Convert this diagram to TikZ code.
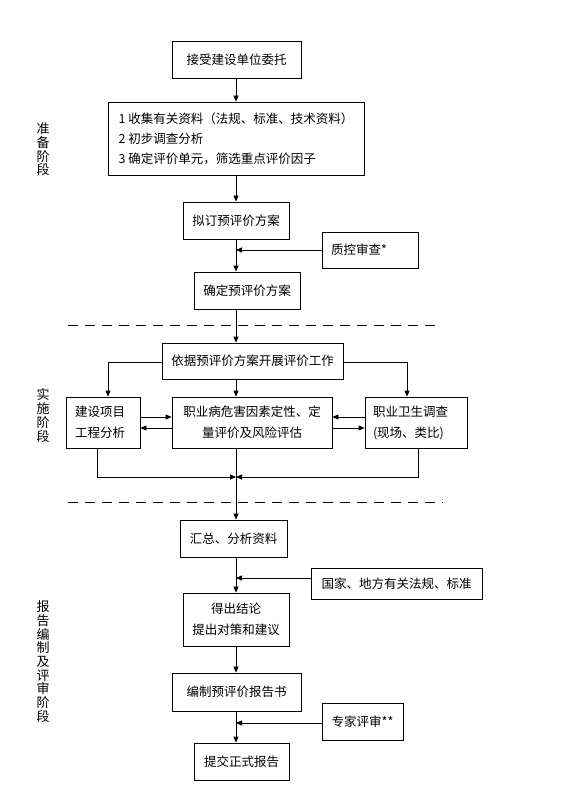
\documentclass[tikz,border=0pt]{standalone}
\usepackage{fontspec}
\setmainfont{Noto Sans CJK SC}
\usetikzlibrary{arrows.meta}
\begin{document}
\begin{tikzpicture}[x=1pt,y=-1pt,
  box/.style={draw, line width=0.8pt, inner sep=0pt, font=\fontsize{12.5}{21}\selectfont, align=center},
  arr/.style={line width=0.8pt, -{Triangle[length=6pt,width=5pt]}},
  sep/.style={line width=0.8pt, dash pattern=on 10pt off 7pt},
  stage/.style={font=\fontsize{13}{13.7}\selectfont, align=center, inner sep=0pt}]
\fill[white] (0,0) rectangle (587,794);
\useasboundingbox (0,0) rectangle (587,794);

\coordinate (m) at (236,0);

% stage labels
\node[stage] (s1) at (43,149.5) {准\\备\\阶\\段};
\node[stage] (s2) at (43,415.5) {实\\施\\阶\\段};
\node[stage] (s3) at (43,661.5) {报\\告\\编\\制\\及\\评\\审\\阶\\段};

% boxes
\node[box, minimum width=129pt, minimum height=37pt] (b1) at (236.5,59.5) {接受建设单位委托};
\node[box, minimum width=256pt, minimum height=73pt, align=left, font=\fontsize{12.5}{20}\selectfont] (b2) at (236,138.5)
  {1 收集有关资料（法规、标准、技术资料）\\2 初步调查分析\\3 确定评价单元，筛选重点评价因子};
\node[box, minimum width=106pt, minimum height=37pt] (b3) at (236,220.5) {拟订预评价方案};
\node[box, minimum height=36pt, text width=78pt, inner xsep=9pt, align=left] (qc) at (370,250) {质控审查*};
\node[box, minimum width=106pt, minimum height=37pt] (b4) at (247,290.5) {确定预评价方案};

\node[box, minimum width=181pt, minimum height=36pt] (b5) at (252.5,361) {依据预评价方案开展评价工作};
\node[box, minimum height=51pt, text width=56pt, inner xsep=9pt, align=left] (b6) at (103,422.5) {建设项目\\工程分析};
\node[box, minimum width=160pt, minimum height=51pt] (b7) at (252,422.5) {职业病危害因素定性、定\\量评价及风险评估};
\node[box, minimum height=51pt, text width=86pt, inner xsep=8pt, align=left] (b8) at (416,422.5) {职业卫生调查\\(现场、类比)};

\node[box, minimum width=107pt, minimum height=37pt] (b9) at (233.5,538.5) {汇总、分析资料};
\node[box, minimum width=171pt, minimum height=31pt] (nat) at (396.5,583.5) {国家、地方有关法规、标准};
\node[box, minimum width=106pt, minimum height=53pt] (b10) at (236,619.5) {得出结论\\提出对策和建议};
\node[box, minimum width=129pt, minimum height=38pt] (b11) at (236.5,692) {编制预评价报告书};
\node[box, minimum width=81pt, minimum height=37pt] (ex) at (362.5,721.5) {专家评审**};
\node[box, minimum width=95pt, minimum height=37pt] (b12) at (241.5,761.5) {提交正式报告};

% separators
\draw[sep] (68,325) -- (438,325);
\draw[sep] (68,502) -- (443,502);

% main flow
\draw[arr] (b1.south -| m) -- (b2.north -| m);
\draw[arr] (b2.south -| m) -- (b3.north -| m);
\draw[arr] (b3.south -| m) -- (b4.north -| m);
\draw[arr] (qc.west) -- (qc.west -| m);
\draw[arr] (b4.south -| m) -- (b5.north -| m);
\draw[arr] (b5.south -| m) -- (b7.north -| m);

\coordinate (lb) at (108,362);
\coordinate (rb) at (407,362);
\draw[arr] (b5.west |- lb) -| (b6.north -| lb);
\draw[arr] (b5.east |- rb) -| (b8.north -| rb);

\coordinate (ya) at (0,417);
\coordinate (yb) at (0,428);
\draw[arr] (b6.east |- ya) -- (b7.west |- ya);
\draw[arr] (b7.west |- yb) -- (b6.east |- yb);
\draw[arr] (b8.west |- ya) -- (b7.east |- ya);
\draw[arr] (b7.east |- yb) -- (b8.west |- yb);

\coordinate (jl) at (97,477);
\coordinate (jr) at (418,477);
\draw[arr] (b6.south -| jl) |- (m |- jl);
\draw[arr] (b8.south -| jr) |- (m |- jr);
\draw[arr] (b7.south -| m) -- (b9.north -| m);

\coordinate (yn) at (0,578);
\draw[arr] (b9.south -| m) -- (b10.north -| m);
\draw[arr] (nat.west |- yn) -- (m |- yn);
\draw[arr] (b10.south -| m) -- (b11.north -| m);
\coordinate (ye) at (0,723);
\draw[arr] (b11.south -| m) -- (b12.north -| m);
\draw[arr] (ex.west |- ye) -- (m |- ye);
\end{tikzpicture}
\end{document}
